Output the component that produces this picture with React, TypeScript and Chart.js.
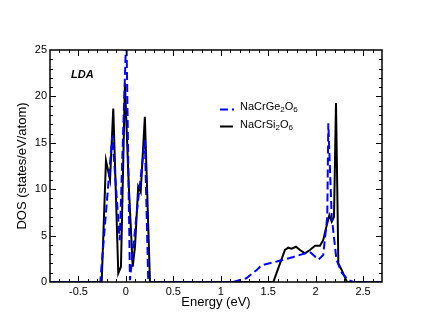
import React, { useEffect, useRef } from "react";
import { Chart, registerables } from "chart.js";
Chart.register(...registerables);

// NaCrSi2O6 (black, solid)
const siEnergy = [-0.8, -0.27, -0.255, -0.21, -0.167, -0.133, -0.08, -0.052, -0.01, 0.03, 0.072, 0.096, 0.13, 0.156, 0.2, 0.254, 0.27,
  1.5, 1.554, 1.625, 1.677, 1.712, 1.747, 1.793, 1.835, 1.888, 1.94, 1.994, 2.046, 2.08, 2.117, 2.145, 2.17, 2.194, 2.215, 2.24, 2.275, 2.33, 2.7];
const siDos = [0, 0, 0, 13.1, 11.0, 18.7, 0.95, 1.65, 21.4, 10.5, 1.65, 3.8, 10.3, 9.7, 17.8, 0, 0,
  0, 0, 2.0, 3.45, 3.7, 3.6, 3.8, 3.45, 3.1, 3.45, 3.9, 3.9, 4.5, 6.1, 7.2, 6.5, 7.0, 19.3, 2.0, 1.3, 0, 0];

// NaCrGe2O6 (blue, dashed)
const geEnergy = [-0.8, -0.27, -0.143, -0.065, 0.005, 0.043, 0.114, 0.2, 0.236,
  1.13, 1.27, 1.38, 1.43, 1.59, 1.765, 1.94, 2.03, 2.08, 2.123, 2.134, 2.17, 2.22, 2.275, 2.345, 2.4, 2.7];
const geDos = [0, 0, 15.8, 4.5, 27, 0.2, 7.4, 15.3, 0,
  0, 0.4, 1.3, 1.8, 2.2, 2.7, 3.25, 2.4, 2.9, 7.0, 17.1, 7.0, 2.4, 1.0, 0.2, 0, 0];

const xTicks = [-0.5, 0, 0.5, 1, 1.5, 2, 2.5];
const yTicks = [0, 5, 10, 15, 20, 25];
const seriesNames = ["NaCrGe2O6", "NaCrSi2O6"];
const xTitle = "Energy (eV)";
const yTitle = "DOS (states/eV/atom)";
const panelLabel = "LDA";

const FONT = "'Liberation Sans', Arial, Helvetica, sans-serif";

function drawSubText(ctx: CanvasRenderingContext2D, text: string, x: number, y: number, size: number) {
  const parts = text.split(/(\d+)/).filter((p) => p.length > 0);
  let cx = x;
  for (const p of parts) {
    const isSub = /^\d+$/.test(p);
    ctx.font = `${isSub ? Math.round(size * 0.72) : size}px ${FONT}`;
    ctx.fillText(p, cx, isSub ? y + 3 : y);
    cx += ctx.measureText(p).width;
  }
}

const framePlugin = {
  id: "frame",
  afterDraw(chart: any) {
    const { ctx, chartArea: a, scales } = chart;
    const xs = scales.x;
    const ys = scales.y;
    ctx.save();
    ctx.strokeStyle = "#000";
    ctx.lineWidth = 1.5;
    ctx.strokeRect(a.left, a.top, a.right - a.left, a.bottom - a.top);
    ctx.lineWidth = 1;
    // x ticks
    for (let i = -8; i <= 27; i++) {
      const v = i / 10;
      const px = Math.round(xs.getPixelForValue(v)) + 0.5;
      if (px <= a.left + 1 || px >= a.right - 1) continue;
      const major = i % 5 === 0;
      const len = major ? 6 : 3;
      ctx.beginPath();
      ctx.moveTo(px, a.bottom);
      ctx.lineTo(px, a.bottom - len);
      ctx.moveTo(px, a.top);
      ctx.lineTo(px, a.top + len);
      ctx.stroke();
    }
    for (let v = 0; v <= 25; v++) {
      const py = Math.round(ys.getPixelForValue(v)) + 0.5;
      if (py <= a.top + 1 || py >= a.bottom - 1) continue;
      const major = v % 5 === 0;
      const len = major ? 6 : 3;
      ctx.beginPath();
      ctx.moveTo(a.left, py);
      ctx.lineTo(a.left + len, py);
      ctx.moveTo(a.right, py);
      ctx.lineTo(a.right - len, py);
      ctx.stroke();
    }
    // titles
    ctx.fillStyle = "#000";
    ctx.textAlign = "center";
    ctx.textBaseline = "middle";
    ctx.font = `13px ${FONT}`;
    ctx.fillText(xTitle, (a.left + a.right) / 2, 302);
    ctx.save();
    ctx.translate(22, (a.top + a.bottom) / 2);
    ctx.rotate(-Math.PI / 2);
    ctx.fillText(yTitle, 0, 0);
    ctx.restore();
    // panel label
    ctx.textAlign = "left";
    ctx.font = `italic bold 11px ${FONT}`;
    ctx.fillText(panelLabel, 71, 75);
    // legend
    ctx.lineWidth = 2;
    ctx.strokeStyle = "#0000ff";
    ctx.setLineDash([8, 4]);
    ctx.beginPath();
    ctx.moveTo(220, 109.5);
    ctx.lineTo(234, 109.5);
    ctx.stroke();
    ctx.setLineDash([]);
    ctx.strokeStyle = "#000";
    ctx.beginPath();
    ctx.moveTo(220, 126.5);
    ctx.lineTo(233, 126.5);
    ctx.stroke();
    ctx.textBaseline = "middle";
    drawSubText(ctx, seriesNames[0], 240, 107, 11);
    drawSubText(ctx, seriesNames[1], 240, 125, 11);
    ctx.restore();
  },
};

export default function App() {
  const ref = useRef<HTMLCanvasElement | null>(null);
  useEffect(() => {
    document.body.style.margin = "0";
    if (!ref.current) return;
    const chart = new Chart(ref.current, {
      type: "line",
      data: {
        datasets: [
          {
            label: seriesNames[0],
            data: geEnergy.map((x, i) => ({ x, y: geDos[i] })),
            borderColor: "#0000ff",
            borderWidth: 2,
            borderDash: [8, 4],
            pointRadius: 0,
            tension: 0,
            fill: false,
          },
          {
            label: seriesNames[1],
            data: siEnergy.map((x, i) => ({ x, y: siDos[i] })),
            borderColor: "#000000",
            borderWidth: 2,
            pointRadius: 0,
            tension: 0,
            fill: false,
          },
        ],
      },
      options: {
        animation: false,
        responsive: false,
        devicePixelRatio: 1,
        layout: { padding: { top: 50, right: 48, left: 0, bottom: 0 } },
        plugins: { legend: { display: false }, tooltip: { enabled: false }, title: { display: false } },
        scales: {
          x: {
            type: "linear",
            min: -0.8,
            max: 2.7,
            afterBuildTicks: (s: any) => {
              s.ticks = xTicks.map((v) => ({ value: v }));
            },
            afterFit: (s: any) => {
              s.height = 50;
            },
            grid: { display: false, drawTicks: false },
            border: { display: false },
            ticks: {
              color: "#000",
              font: { family: FONT, size: 11 },
              padding: 3,
              maxRotation: 0,
              autoSkip: false,
              callback: (v: any) => String(v),
            },
          },
          y: {
            type: "linear",
            min: 0,
            max: 25,
            afterBuildTicks: (s: any) => {
              s.ticks = yTicks.map((v) => ({ value: v }));
            },
            afterFit: (s: any) => {
              s.width = 50;
            },
            grid: { display: false, drawTicks: false },
            border: { display: false },
            ticks: {
              color: "#000",
              font: { family: FONT, size: 11 },
              padding: 3,
              autoSkip: false,
              callback: (v: any) => String(v),
            },
          },
        },
      },
      plugins: [framePlugin],
    });
    return () => chart.destroy();
  }, []);
  return (
    <div style={{ width: 430, height: 332 }}>
      <canvas ref={ref} width={430} height={332} style={{ width: 430, height: 332 }} />
    </div>
  );
}
